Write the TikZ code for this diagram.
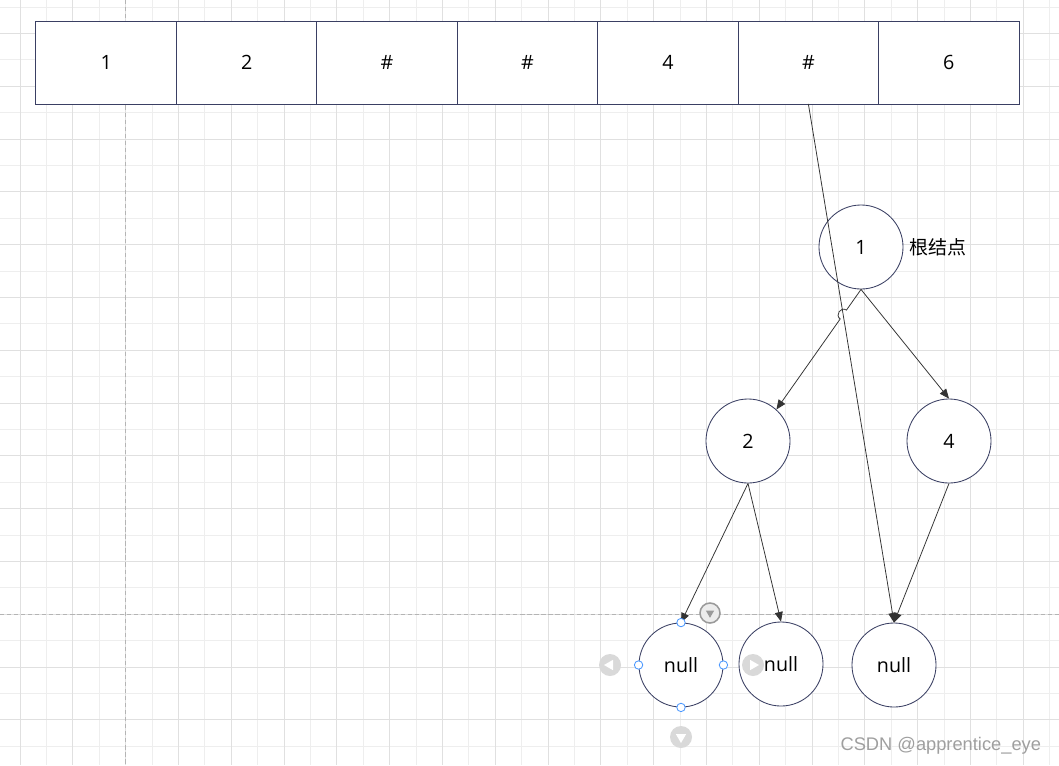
\documentclass[tikz,border=0pt]{standalone}
\usepackage{fontspec}
\setmainfont{Open Sans}
\newfontfamily\cjkfont{Noto Sans CJK SC}
\newfontfamily\markfont{Liberation Sans}
\usetikzlibrary{arrows.meta, positioning, calc, shapes.geometric}
\definecolor{BoxNavy}{HTML}{3A3F63}
\definecolor{LineGray}{HTML}{333333}
\definecolor{GridMinor}{HTML}{EEEEEE}
\definecolor{GridMajor}{HTML}{E0E0E0}
\definecolor{GuideGray}{HTML}{B4B4B4}
\definecolor{HandleBlue}{HTML}{4A98FF}
\definecolor{IconGray}{HTML}{D9D9D9}
\definecolor{MarkGray}{HTML}{9A9A9A}
\tikzset{
  % Box styles
  cellbox/.style={rectangle, draw=BoxNavy, fill=white, line width=0.7pt, outer sep=0pt, minimum width=3.51cm, minimum height=2.075cm, inner sep=0pt, font=\fontsize{14}{16}\selectfont},
  treenode/.style={circle, draw=BoxNavy, fill=white, line width=0.6pt, minimum size=2.1cm, inner sep=0pt, font=\fontsize{14}{16}\selectfont},
  % Arrow styles
  arrow/.style={->, >={Triangle[length=2.4mm, width=2mm]}, line width=0.55pt, LineGray},
  % Background styles
  gridminor/.style={GridMinor, line width=0.6pt},
  gridmajor/.style={GridMajor, line width=0.6pt},
  guideline/.style={GuideGray, line width=0.5pt, dash pattern=on 3pt off 2pt},
  % Editor marks
  handle/.style={circle, draw=HandleBlue, fill=white, line width=0.6pt, minimum size=0.21cm, inner sep=0pt},
  icondisc/.style={circle, fill=IconGray, minimum size=0.55cm, inner sep=0pt},
  icontip/.style={regular polygon, regular polygon sides=3, fill=white, minimum size=0.3cm, inner sep=0pt}
}

\begin{document}
\begin{tikzpicture}[x=0.025cm, y=-0.025cm]
  \useasboundingbox (0,0) rectangle (1059,765);
  \fill[white] (0,0) rectangle (1059,765);

  % Grid
  \foreach \gx in {46.4,99.2,...,1059} \draw[gridminor] (\gx,0) -- (\gx,765);
  \foreach \gy in {7,59.8,...,765} \draw[gridminor] (0,\gy) -- (1059,\gy);
  \foreach \gx in {20,72.8,...,1059} \draw[gridmajor] (\gx,0) -- (\gx,765);
  \foreach \gy in {33.4,86.2,...,765} \draw[gridmajor] (0,\gy) -- (1059,\gy);
  \draw[guideline] (125.6,0) -- (125.6,765);
  \draw[guideline] (0,614) -- (1059,614);

  % Array
  \node[cellbox] (a0) at (106.2,62.5) {1};
  \node[cellbox, right=0pt of a0] (a1) {2};
  \node[cellbox, right=0pt of a1] (a2) {\#};
  \node[cellbox, right=0pt of a2] (a3) {\#};
  \node[cellbox, right=0pt of a3] (a4) {4};
  \node[cellbox, right=0pt of a4] (a5) {\#};
  \node[cellbox, right=0pt of a5] (a6) {6};

  % Tree
  \node[treenode] (n1) at (861,247) {1};
  \node[right=0.03cm of n1, font=\cjkfont\fontsize{13.5}{15}\selectfont] (rootlabel) {根结点};
  \node[treenode] (n2) at (748,441) {2};
  \node[treenode] (n4) at (949,441) {4};
  \node[treenode] (nl1) at (681,665) {null};
  \node[treenode] (nl2) at (781,664) {null};
  \node[treenode] (nl3) at (894,665) {null};

  % Edges
  \draw[arrow] (n1.south) -- ($(n1.south)!0.172!(n2.48)$) to[bend right=90, looseness=1.6] ($(n1.south)!0.246!(n2.48)$) -- (n2.48);
  \draw[arrow] (n1.south) -- (n4.north);
  \draw[arrow] (n2.south) -- (nl1.north);
  \draw[arrow] (n2.south) -- (nl2.north);
  \draw[arrow] (n4.south) -- (nl3.north);
  \draw[arrow] (a5.south) -- (nl3.north);

  % Selection marks
  \foreach \side in {north,west,east,south} \node[handle] at (nl1.\side) {};
  \node[circle, draw=MarkGray, fill=IconGray!50, line width=1.1pt, minimum size=0.5cm, inner sep=0pt] (icontop) at (710,613) {};
  \node[icontip, fill=MarkGray, minimum size=0.24cm, shape border rotate=180] at (icontop) {};
  \node[icondisc] (iconleft) at (610,665) {};
  \node[icontip, shape border rotate=90] at (iconleft) {};
  \node[icondisc] (iconright) at (753,665) {};
  \node[icontip, shape border rotate=-90] at (iconright) {};
  \node[icondisc] (icondown) at (681,737) {};
  \node[icontip, shape border rotate=180] at (icondown) {};

  % Watermark
  \node[anchor=east, text=gray!75, font=\markfont\fontsize{13}{15}\selectfont] (mark) at (1046,746) {CSDN @apprentice\_eye};
\end{tikzpicture}
\end{document}
